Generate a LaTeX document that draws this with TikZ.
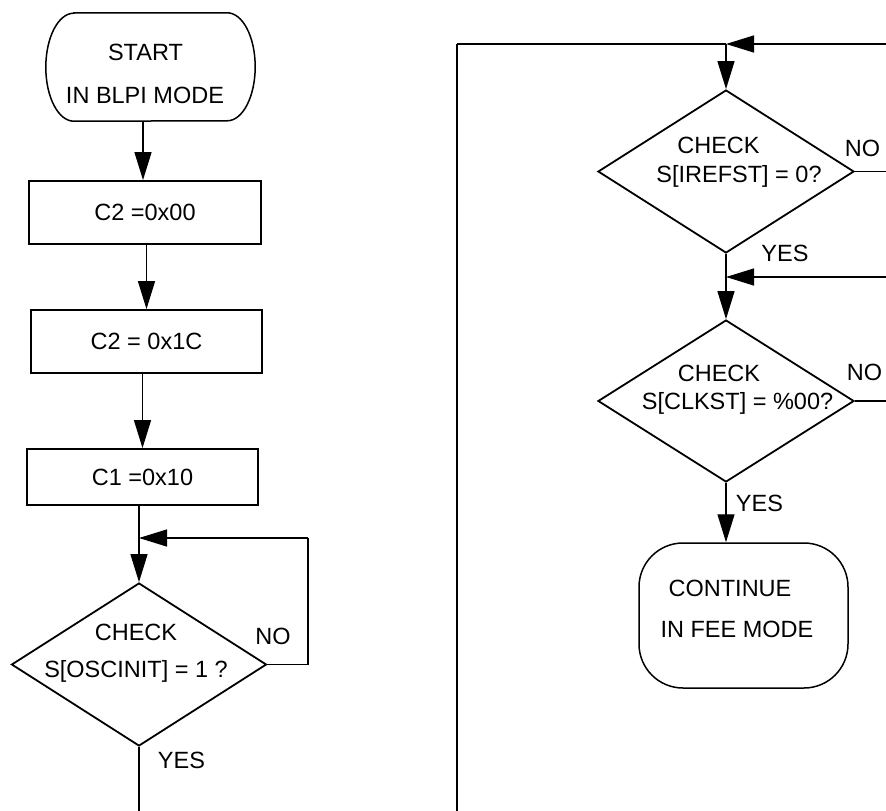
\documentclass[tikz,border=0pt]{standalone}
\usepackage{fontspec}
\setmainfont{Liberation Sans}
\usetikzlibrary{shapes.geometric,arrows.meta}
\begin{document}
\begin{tikzpicture}[x=1pt,y=-1pt,
  every node/.style={font=\fontsize{23.5}{28}\selectfont},
  box/.style={draw,line width=1.8pt,inner sep=0pt},
  dia/.style={draw,diamond,line width=1.8pt,inner sep=0pt},
  term/.style={line width=1.5pt},
  lbl/.style={inner sep=0pt,anchor=base},
  conn/.style={line width=1.3pt},
  arr/.style={conn,-{Triangle[length=28pt,width=17pt]}}]
\useasboundingbox (0,0) rectangle (886,811);
\fill[white] (0,0) rectangle (886,811);

% ---------------- left column ----------------
\node[minimum width=209pt,minimum height=108pt,inner sep=0pt] (start) at (150.5,67) {};
\draw[term] ([xshift=28pt]start.north west) -- ([xshift=-28pt]start.north east)
  arc[start angle=90,end angle=-90,x radius=28pt,y radius=54pt]
  -- ([xshift=28pt]start.south west)
  arc[start angle=270,end angle=90,x radius=28pt,y radius=54pt] -- cycle;
\node[lbl] (startA) at (145.5,60) {START};
\node[lbl] (startB) at (145,103) {IN BLPI MODE};

\node[box,minimum width=232pt,minimum height=63pt] (b1) at (145,212.5) {C2 =0x00};
\node[box,minimum width=231pt,minimum height=63pt] (b2) at (146.5,341.5) {C2 = 0x1C};
\node[box,minimum width=231pt,minimum height=56pt] (b3) at (142.5,477) {C1 =0x10};

\node[dia,minimum width=255pt,minimum height=163pt] (d1) at (139,664.5) {};
\node[lbl] (d1a) at (136,640) {CHECK};
\node[lbl] (d1b) at (136,677) {S[OSCINIT] = 1 ?};
\node[lbl] (no1) at (273,644) {NO};
\node[lbl] (yes1) at (181.5,768) {YES};

\coordinate (lp1) at (308,538);
\coordinate (end1) at (139,811);

\draw[arr] (start.south -| 143,0) -- (b1.north -| 143,0);
\draw[arr] (b1.south -| b2.north) -- (b2.north);
\draw[arr] (b2.south -| b3.north) -- (b3.north);
\draw[arr] (b3.south -| d1.north) -- (d1.north);
\draw[conn] (d1.east) -| (lp1);
\draw[arr] (lp1) -- (lp1 -| d1.north);
\draw[conn] (d1.south) -- (end1);

% ---------------- right column ----------------
\node[dia,minimum width=256pt,minimum height=163pt] (d2) at (726,171.5) {};
\node[lbl] (d2a) at (718.5,153) {CHECK};
\node[lbl] (d2b) at (739,182) {S[IREFST] = 0?};
\node[lbl] (no2) at (862.5,156) {NO};
\node[lbl] (yes2) at (785,261) {YES};

\node[dia,minimum width=256pt,minimum height=162pt] (d3) at (726,401) {};
\node[lbl] (d3a) at (719,381) {CHECK};
\node[lbl] (d3b) at (737.5,409) {S[CLKST] = \%00?};
\node[lbl] (no3) at (864.5,380) {NO};
\node[lbl] (yes3) at (759.5,511) {YES};

\node[draw,term,rounded corners=44pt,minimum width=209pt,minimum height=145pt,inner sep=0pt] (t2) at (743.5,615.5) {};
\node[lbl] (t2a) at (730,596) {CONTINUE};
\node[lbl] (t2b) at (737,637) {IN FEE MODE};

\coordinate (bl) at (457,811);
\coordinate (tl) at (457,44);
\coordinate (r1) at (886,44);
\coordinate (r2) at (886,171.5);
\coordinate (r3) at (886,277);
\coordinate (r4) at (886,401);

\draw[line width=1.8pt] (bl) -- (tl);
\draw[conn] (tl) -- (tl -| d2.north);
\draw[arr] (r1) -- (r1 -| d2.north);
\draw[arr] (tl -| d2.north) -- (d2.north);
\draw[conn] (d2.east) -- (r2);
\draw[arr] (r3) -- (r3 -| d2.south);
\draw[arr] (d2.south) -- (d3.north);
\draw[conn] (d3.east) -- (r4);
\draw[arr] (d3.south) -- (d3.south |- t2.north);
\end{tikzpicture}
\end{document}
